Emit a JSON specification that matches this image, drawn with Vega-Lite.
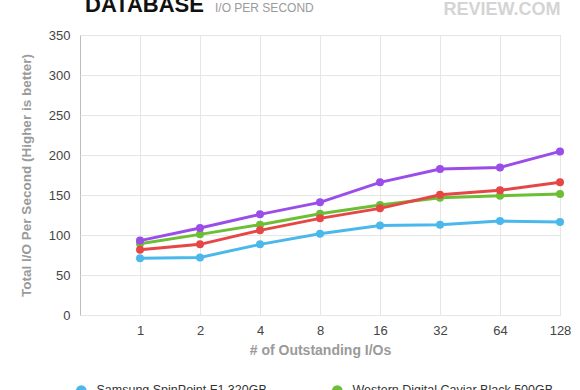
{
  "$schema": "https://vega.github.io/schema/vega-lite/v6.json",
  "width": 480,
  "height": 280,
  "autosize": "none",
  "padding": {"left": 80, "top": 35, "right": 20, "bottom": 75},
  "background": "white",
  "config": {
    "font": "Liberation Sans",
    "view": {"stroke": "#bdbdbd", "strokeWidth": 1}
  },
  "title": {
    "text": "DATABASE",
    "subtitle": "\u200b\u00a0\u00a0\u00a0\u00a0\u00a0\u00a0\u00a0\u00a0\u00a0\u00a0\u00a0\u00a0\u00a0\u00a0\u00a0\u00a0\u00a0\u00a0\u00a0\u00a0\u00a0\u00a0\u00a0\u00a0\u00a0\u00a0\u00a0\u00a0\u00a0\u00a0\u00a0\u00a0\u00a0\u00a0\u00a0\u00a0\u00a0\u00a0\u00a0I/O PER SECOND",
    "anchor": "start",
    "frame": "group",
    "font": "Liberation Sans",
    "fontSize": 22,
    "fontWeight": "bold",
    "color": "#111111",
    "subtitleFont": "Liberation Sans",
    "subtitleFontSize": 12,
    "subtitleColor": "#9a9a9a",
    "subtitlePadding": -14,
    "offset": -17,
    "dx": 5
  },
  "data": {
    "values": [
      {"series": "Samsung SpinPoint F1 320GB", "ios": 1, "value": 70.8},
      {"series": "Samsung SpinPoint F1 320GB", "ios": 2, "value": 72},
      {"series": "Samsung SpinPoint F1 320GB", "ios": 4, "value": 88.3},
      {"series": "Samsung SpinPoint F1 320GB", "ios": 8, "value": 101.6},
      {"series": "Samsung SpinPoint F1 320GB", "ios": 16, "value": 112},
      {"series": "Samsung SpinPoint F1 320GB", "ios": 32, "value": 112.9},
      {"series": "Samsung SpinPoint F1 320GB", "ios": 64, "value": 117.5},
      {"series": "Samsung SpinPoint F1 320GB", "ios": 128, "value": 116.2},
      {"series": "Western Digital Caviar Black 500GB", "ios": 1, "value": 89},
      {"series": "Western Digital Caviar Black 500GB", "ios": 2, "value": 100.8},
      {"series": "Western Digital Caviar Black 500GB", "ios": 4, "value": 112.9},
      {"series": "Western Digital Caviar Black 500GB", "ios": 8, "value": 126.6},
      {"series": "Western Digital Caviar Black 500GB", "ios": 16, "value": 137.5},
      {"series": "Western Digital Caviar Black 500GB", "ios": 32, "value": 146.6},
      {"series": "Western Digital Caviar Black 500GB", "ios": 64, "value": 149.1},
      {"series": "Western Digital Caviar Black 500GB", "ios": 128, "value": 151.2},
      {"series": "Seagate Barracuda 7200.12", "ios": 1, "value": 81.6},
      {"series": "Seagate Barracuda 7200.12", "ios": 2, "value": 88.3},
      {"series": "Seagate Barracuda 7200.12", "ios": 4, "value": 105.8},
      {"series": "Seagate Barracuda 7200.12", "ios": 8, "value": 120.8},
      {"series": "Seagate Barracuda 7200.12", "ios": 16, "value": 133.3},
      {"series": "Seagate Barracuda 7200.12", "ios": 32, "value": 150.4},
      {"series": "Seagate Barracuda 7200.12", "ios": 64, "value": 155.8},
      {"series": "Seagate Barracuda 7200.12", "ios": 128, "value": 166},
      {"series": "Samsung SpinPoint F3 1TB", "ios": 1, "value": 93},
      {"series": "Samsung SpinPoint F3 1TB", "ios": 2, "value": 108.7},
      {"series": "Samsung SpinPoint F3 1TB", "ios": 4, "value": 125.8},
      {"series": "Samsung SpinPoint F3 1TB", "ios": 8, "value": 140.8},
      {"series": "Samsung SpinPoint F3 1TB", "ios": 16, "value": 165.8},
      {"series": "Samsung SpinPoint F3 1TB", "ios": 32, "value": 182.5},
      {"series": "Samsung SpinPoint F3 1TB", "ios": 64, "value": 184.5},
      {"series": "Samsung SpinPoint F3 1TB", "ios": 128, "value": 204.5}
    ]
  },
  "encoding": {
    "y": {
      "field": "value",
      "type": "quantitative",
      "scale": {"domain": [0, 350], "nice": false, "zero": true},
      "axis": {
        "values": [0, 50, 100, 150, 200, 250, 300, 350],
        "grid": true,
        "gridColor": "#e6e6e6",
        "ticks": false,
        "domain": false,
        "labelFontSize": 13,
        "labelColor": "#444444",
        "labelPadding": 10,
        "title": "Total I/O Per Second  (Higher is better)",
        "titleFontSize": 13.5,
        "titleFontWeight": "bold",
        "titleColor": "#9a9a9a",
        "titlePadding": 15
      }
    },
    "color": {
      "field": "series",
      "type": "nominal",
      "scale": {
        "domain": ["Samsung SpinPoint F1 320GB", "Western Digital Caviar Black 500GB", "Seagate Barracuda 7200.12", "Samsung SpinPoint F3 1TB"],
        "range": ["#4bb8eb", "#6cbf35", "#e64646", "#9a4de8"]
      },
      "legend": {
        "orient": "none",
        "legendX": -5,
        "legendY": 349,
        "direction": "horizontal",
        "columns": 2,
        "title": null,
        "symbolType": "circle",
        "symbolSize": 110,
        "symbolStrokeWidth": 0,
        "labelFontSize": 12.5,
        "labelColor": "#333333",
        "labelLimit": 400,
        "labelOffset": 9,
        "columnPadding": 64,
        "rowPadding": 8
      }
    }
  },
  "layer": [
    {
      "mark": {"type": "line", "strokeWidth": 3},
      "encoding": {
        "x": {
          "field": "ios",
          "type": "quantitative",
          "scale": {"type": "log", "base": 2, "domain": [0.5, 128], "nice": false},
          "axis": {
            "orient": "bottom",
            "values": [1, 2, 4, 8, 16, 32, 64, 128],
            "format": "d",
            "grid": true,
            "gridColor": "#e6e6e6",
            "ticks": false,
            "domain": false,
            "labelFontSize": 13,
            "labelColor": "#444444",
            "labelPadding": 9,
            "labelFlush": false,
            "title": "# of Outstanding I/Os",
            "titleFontSize": 14,
            "titleFontWeight": "bold",
            "titleColor": "#9a9a9a",
            "titlePadding": 6
          }
        }
      }
    },
    {
      "mark": {"type": "circle", "size": 64, "opacity": 1},
      "encoding": {
        "x": {
          "field": "ios",
          "type": "quantitative",
          "scale": {"type": "log", "base": 2, "domain": [0.5, 128], "nice": false},
          "axis": {
            "orient": "top",
            "labels": false,
            "ticks": false,
            "domain": false,
            "grid": false,
            "title": "REVIEW.COM",
            "titleAnchor": "end",
            "titleFontSize": 18,
            "titleFontWeight": "bold",
            "titleColor": "#d4d4d4",
            "titleBaseline": "alphabetic",
            "titlePadding": 21
          }
        }
      }
    }
  ],
  "resolve": {"axis": {"x": "independent"}}
}
